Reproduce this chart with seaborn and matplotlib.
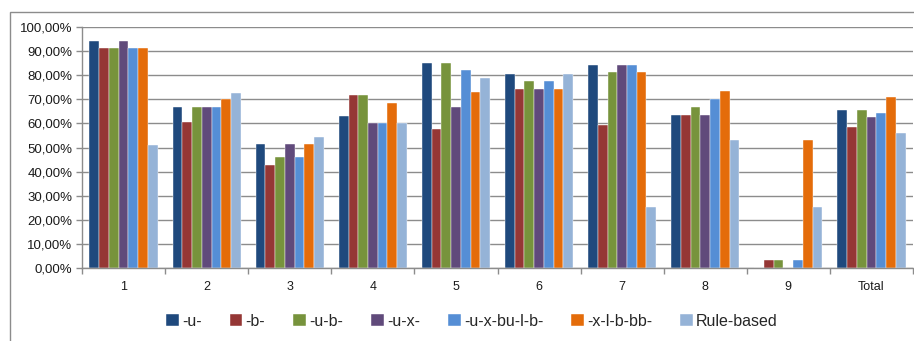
import numpy as np
import pandas as pd
import seaborn as sns
import matplotlib.pyplot as plt
from matplotlib.patches import Rectangle
from matplotlib.ticker import FuncFormatter, MultipleLocator

categories = ["1", "2", "3", "4", "5", "6", "7", "8", "9", "Total"]
series = ["-u-", "-b-", "-u-b-", "-u-x-", "-u-x-bu-l-b-", "-x-l-b-bb-", "Rule-based"]

u = [94.1, 66.7, 51.3, 63.1, 85.0, 80.6, 84.2, 63.5, 0.0, 65.7]
b = [91.2, 60.6, 42.8, 71.6, 57.7, 74.2, 59.5, 63.5, 3.3, 58.5]
u_b = [91.2, 66.7, 45.9, 71.6, 85.0, 77.4, 81.4, 66.6, 3.3, 65.7]
u_x = [94.1, 66.7, 51.3, 60.0, 66.6, 74.2, 84.2, 63.5, 0.0, 62.7]
u_x_bu_l_b = [91.2, 66.7, 45.9, 60.0, 82.0, 77.4, 84.2, 70.1, 3.3, 64.4]
x_l_b_bb = [91.2, 70.0, 51.3, 68.5, 73.0, 74.2, 81.4, 73.3, 53.3, 70.7]
rule_based = [51.0, 72.7, 54.5, 60.0, 78.6, 80.6, 25.3, 53.3, 25.3, 55.8]

colors = ["#1F497D", "#953735", "#77933C", "#604A7B", "#558ED5", "#E46C0A", "#95B3D7"]

values = [u, b, u_b, u_x, u_x_bu_l_b, x_l_b_bb, rule_based]
df = pd.DataFrame(
    [(c, s, v) for s, vals in zip(series, values) for c, v in zip(categories, vals)],
    columns=["category", "series", "value"],
)

sns.set_theme(style="white")
plt.rcParams["font.family"] = ["Liberation Sans", "DejaVu Sans"]

fig = plt.figure(figsize=(9.14, 3.41), dpi=100)
ax = fig.add_axes([82 / 914, 1 - 268.3 / 341, (913 - 82) / 914, (268.3 - 26.7) / 341])

sns.barplot(
    data=df, x="category", y="value", hue="series", order=categories,
    hue_order=series, palette=colors, width=0.82, ax=ax,
    edgecolor="white", linewidth=0.3, saturation=1, legend=True,
)

grid_c = "#8C8C8C"
ax.set_ylim(0, 100)
ax.set_xlim(-0.5, len(categories) - 0.5)
ax.yaxis.set_major_locator(MultipleLocator(10))
ax.yaxis.set_major_formatter(FuncFormatter(lambda v, p: f"{v:.2f}%".replace(".", ",")))
ax.yaxis.grid(True, color=grid_c, linewidth=1.0)
ax.set_axisbelow(True)
ax.set_xlabel("")
ax.set_ylabel("")

for side in ["top", "right"]:
    ax.spines[side].set_visible(False)
for side in ["left", "bottom"]:
    ax.spines[side].set_color(grid_c)
    ax.spines[side].set_linewidth(1.0)

ax.tick_params(axis="y", which="major", length=4, width=1, color=grid_c,
               labelsize=9.5, labelcolor="#1a1a1a", pad=3, left=True)
# category ticks drawn between groups, labels centred under groups
ax.set_xticks(np.arange(len(categories)))
ax.set_xticklabels(categories)
ax.tick_params(axis="x", which="major", length=0, labelsize=9, labelcolor="#1a1a1a", pad=9)
ax.set_xticks(np.arange(len(categories) + 1) - 0.5, minor=True)
ax.tick_params(axis="x", which="minor", length=4, width=1, color=grid_c, bottom=True)

handles, labels = ax.get_legend_handles_labels()
ax.legend_.remove()
fig.legend(
    handles, labels, loc="center", bbox_to_anchor=(472 / 914, 1 - 321 / 341),
    ncol=7, frameon=False, fontsize=11.5, handlelength=0.8, handleheight=0.8,
    handletextpad=0.2, columnspacing=1.75,
)

fig.patches.append(Rectangle((10 / 914, -0.1), 1.2, 1 - 12 / 341 + 0.1,
                             transform=fig.transFigure, fill=False,
                             edgecolor="#8C8C8C", linewidth=1.0))

fig.savefig("out.png", dpi=100)
